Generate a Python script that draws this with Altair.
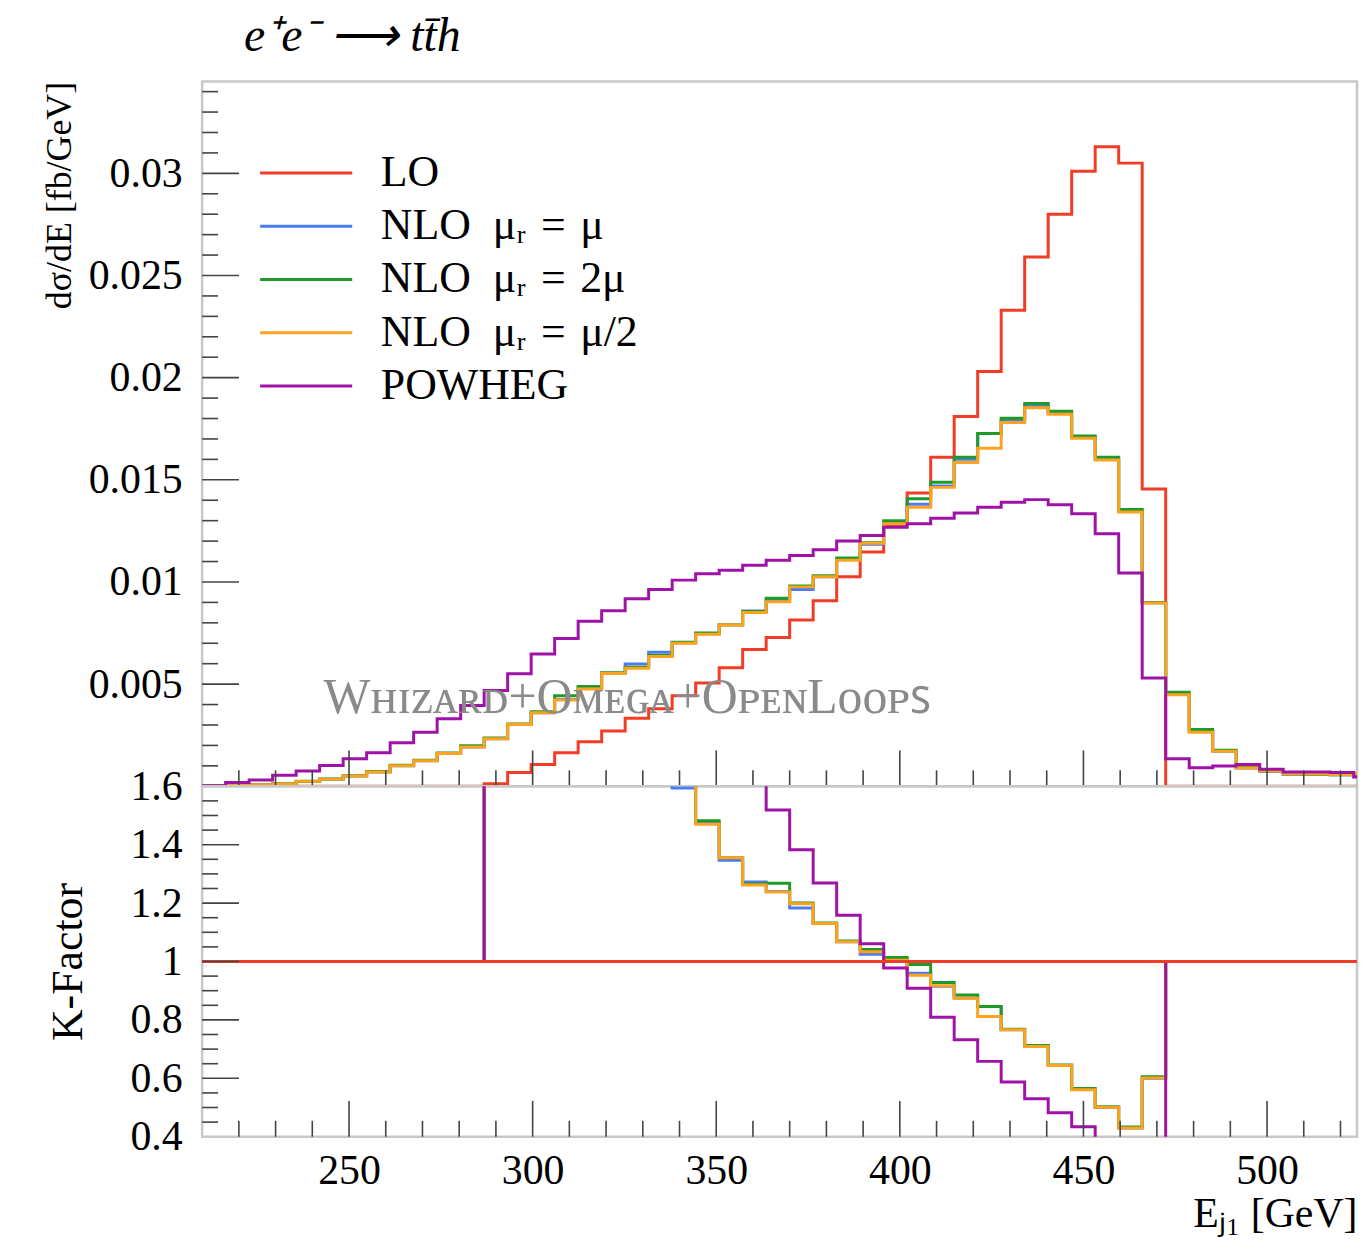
import altair as alt
import pandas as pd

FONT = "Liberation Serif"
W, H1, H2 = 1160, 708, 352
X_MIN, X_MAX = 210.0, 524.5

# Histogram binning: 50 bins of 6.4 GeV from 210 GeV
BIN_LO = 210.0
BIN_WIDTH = 6.4
N_BINS = 50
EDGES = [round(BIN_LO + BIN_WIDTH * i, 2) for i in range(N_BINS + 1)]

SERIES = ["LO",
          "NLO\u2002μᵣ\u2004=\u2004μ",
          "NLO\u2002μᵣ\u2004=\u20042μ",
          "NLO\u2002μᵣ\u2004=\u2004μ/2",
          "POWHEG"]
COLORS = ["#f23c26", "#4a7cf2", "#1f9a2a", "#ffa31f", "#9e12a8"]

# dσ/dE [fb/GeV] per bin
LO = [0, 0, 0, 0, 0, 0, 0, 0, 0, 0, 0, 0,
      0.00013, 0.00067, 0.00107, 0.00164, 0.00218, 0.0027, 0.00333, 0.0038, 0.00443, 0.00505,
      0.0058, 0.0067, 0.00728, 0.00814, 0.00908, 0.01025, 0.01147, 0.0128, 0.01435, 0.0161,
      0.0181, 0.0203, 0.0233, 0.0259, 0.0280, 0.0301, 0.0313, 0.0305, 0.01455,
      0, 0, 0, 0, 0, 0, 0, 0, 0]

NLO_MU = [0.00002, 0.00004, 0.00007, 0.00011, 0.00024, 0.00035, 0.0005, 0.0007, 0.001, 0.00125,
          0.0016, 0.00192, 0.00233, 0.00302, 0.0036, 0.00425, 0.0048, 0.00553, 0.00599, 0.00656,
          0.00703, 0.00746, 0.0079, 0.00858, 0.0091, 0.00963, 0.01025, 0.0111, 0.01185, 0.0129,
          0.0138, 0.0147, 0.016, 0.01727, 0.0179, 0.0186, 0.01825, 0.0171, 0.016, 0.01345,
          0.00898, 0.0045, 0.0027, 0.00172, 0.0009, 0.00072, 0.00058, 0.00058, 0.00056, 0.0006]

NLO_2MU = [0.00002, 0.00004, 0.00007, 0.00012, 0.00025, 0.00036, 0.00052, 0.00072, 0.00103, 0.00128,
           0.00163, 0.00198, 0.00236, 0.00305, 0.00365, 0.00443, 0.00489, 0.00556, 0.00583, 0.0064,
           0.00705, 0.0075, 0.0079, 0.00855, 0.0092, 0.0098, 0.0103, 0.01117, 0.01192, 0.0130,
           0.01407, 0.01488, 0.0161, 0.01727, 0.01801, 0.01873, 0.01835, 0.01715, 0.0161, 0.01355,
           0.009, 0.0046, 0.00278, 0.00176, 0.00093, 0.00076, 0.00061, 0.00059, 0.00057, 0.0006]

NLO_HALF = [0.00002, 0.00004, 0.00007, 0.00011, 0.00024, 0.00035, 0.0005, 0.0007, 0.001, 0.00125,
            0.0016, 0.00192, 0.00233, 0.00302, 0.0036, 0.00422, 0.00476, 0.00552, 0.00578, 0.00635,
            0.007, 0.00744, 0.00789, 0.0085, 0.00903, 0.00976, 0.01025, 0.01106, 0.0119, 0.01285,
            0.01366, 0.01463, 0.01585, 0.01655, 0.0178, 0.01853, 0.01821, 0.01703, 0.01597, 0.01342,
            0.00897, 0.00448, 0.00265, 0.00172, 0.0009, 0.00075, 0.0006, 0.0006, 0.00058, 0.00062]

POWHEG = [0.00003, 0.00018, 0.00031, 0.00054, 0.00075, 0.00102, 0.00135, 0.00164, 0.00213, 0.00265,
          0.0033, 0.00395, 0.00469, 0.00551, 0.00648, 0.00723, 0.00808, 0.00859, 0.00918, 0.00963,
          0.01009, 0.0104, 0.01057, 0.01082, 0.01106, 0.0113, 0.01158, 0.012, 0.01228, 0.01268,
          0.01285, 0.01312, 0.01337, 0.01366, 0.0139, 0.01403, 0.01378, 0.01334, 0.01236, 0.01044,
          0.0053, 0.00135, 0.00091, 0.00099, 0.00107, 0.00083, 0.0007, 0.0007, 0.00067, 0.00045]

# K-factor (ratio to LO); 1 where LO bin is empty
K_LO = [1.0] * N_BINS
K_NLO_MU = [1.0] * 12 + [18.0, 4.5, 3.4, 2.6, 2.2, 2.05, 1.8, 1.72, 1.594, 1.475,
                         1.347, 1.272, 1.24, 1.183, 1.13, 1.068, 1.025, 1.005, 0.96, 0.915,
                         0.875, 0.846, 0.766, 0.712, 0.644, 0.562, 0.5, 0.43, 0.6] + [1.0] * 9
K_NLO_2MU = [1.0] * 12 + [18.5, 4.55, 3.4, 2.7, 2.25, 2.06, 1.77, 1.68, 1.63, 1.482,
                          1.355, 1.265, 1.268, 1.2, 1.132, 1.07, 1.041, 1.014, 0.99, 0.928,
                          0.885, 0.846, 0.768, 0.712, 0.646, 0.565, 0.503, 0.433, 0.605] + [1.0] * 9
K_NLO_HALF = [1.0] * 12 + [17.9, 4.5, 3.37, 2.57, 2.18, 2.04, 1.75, 1.67, 1.61, 1.47,
                           1.355, 1.262, 1.238, 1.198, 1.13, 1.068, 1.033, 1.004, 0.953, 0.917,
                           0.874, 0.812, 0.766, 0.709, 0.644, 0.561, 0.501, 0.43, 0.601] + [1.0] * 9
K_POWHEG = [1.0] * 12 + [36.0, 8.2, 6.1, 4.4, 3.7, 3.2, 2.8, 2.5, 2.28, 2.06,
                         1.85, 1.64, 1.519, 1.383, 1.269, 1.158, 1.061, 0.978, 0.908, 0.809,
                         0.732, 0.658, 0.587, 0.53, 0.482, 0.434, 0.39, 0.34, 0.36] + [1.0] * 9

# Axis ticks / labels
X_MAJOR = [250, 300, 350, 400, 450, 500]
X_MINOR = [v for v in range(220, 530, 10) if v % 50 != 0]
Y_TOP_MAJOR = [0.005, 0.01, 0.015, 0.02, 0.025, 0.03]
Y_TOP_MINOR = [round(0.001 * i, 4) for i in range(1, 35) if i % 5 != 0]
Y_BOT_LABELS = [0.4, 0.6, 0.8, 1.0, 1.2, 1.4, 1.6]
Y_BOT_MAJOR = [0.6, 0.8, 1.0, 1.2, 1.4]
Y_BOT_MINOR = [round(0.4 + 0.05 * i, 3) for i in range(1, 24) if i % 4 != 0]

TITLE = "e⁺e⁻ ⟶ tt̄h"
WATERMARK = "Wʜɪᴢᴀʀᴅ+Oᴍᴇɢᴀ+OᴘᴇɴLᴏᴏᴘꜱ"

TICK_COLOR = "#444444"

x_scale = alt.Scale(domain=[X_MIN, X_MAX], nice=False, zero=False)
y_top_scale = alt.Scale(domain=[0, 0.0345], nice=False, zero=False)
y_bot_scale = alt.Scale(domain=[0.4, 1.6], nice=False, zero=False)
color_scale = alt.Scale(domain=SERIES, range=COLORS)


def step_frame(name, vals):
    # step points at the bin edges; the last (partly visible) bin ends at the frame edge
    xs = [e for e in EDGES[:-1]] + [X_MAX]
    return pd.DataFrame({"E": xs, "v": list(vals) + [vals[-1]], "series": name})


legend = alt.Legend(orient="none", legendX=82.5, legendY=70, title=None,
                    symbolType="M-2.5,0L2.5,0", symbolSize=1369, symbolStrokeWidth=3,
                    labelFont=FONT, labelFontSize=44, labelOffset=53, rowPadding=9.5,
                    padding=0, labelColor="black", labelLimit=0)

top_y_axis = alt.Axis(values=Y_TOP_MAJOR, format="~g", ticks=False, tickSize=0, domain=False,
                      labelPadding=20, labelFontSize=42, labelFlush=False, labelOverlap=False,
                      title="dσ/dE [fb/GeV]", titleAnchor="end", titleFontSize=36,
                      titlePadding=10, titleFontWeight="normal", grid=False)

bot_y_axis = alt.Axis(values=Y_BOT_LABELS, format="~g", ticks=False, tickSize=0, domain=False,
                      labelPadding=20, labelFontSize=42, labelFlush=False, labelOverlap=False,
                      title="K-Factor", titleFontSize=44, titlePadding=40,
                      titleFontWeight="normal", grid=False)

bot_x_axis = alt.Axis(values=X_MAJOR, ticks=False, tickSize=0, domain=False, labelPadding=14,
                      labelFontSize=42, labelFlush=False, labelOverlap=False,
                      title="Eⱼ₁ [GeV]", titleAnchor="end", titleFontSize=42, titlePadding=2,
                      titleFontWeight="normal", grid=False)


def x_ticks(values, height, length, axis):
    return alt.Chart(pd.DataFrame({"E": values})).mark_rule(
        color=TICK_COLOR, strokeWidth=1.6).encode(
        x=alt.X("E:Q", scale=x_scale, axis=axis),
        y=alt.value(height), y2=alt.value(height - length))


def y_ticks(values, scale, length, axis):
    return alt.Chart(pd.DataFrame({"v": values})).mark_rule(
        color=TICK_COLOR, strokeWidth=1.6).encode(
        y=alt.Y("v:Q", scale=scale, axis=axis),
        x=alt.value(0), x2=alt.value(length))


# ---------- top panel ----------
top_layers = []
for name, vals in zip(SERIES, [LO, NLO_MU, NLO_2MU, NLO_HALF, POWHEG]):
    top_layers.append(
        alt.Chart(step_frame(name, vals)).mark_line(
            interpolate="step-after", strokeWidth=3, clip=True).encode(
            x=alt.X("E:Q", scale=x_scale, axis=None),
            y=alt.Y("v:Q", scale=y_top_scale, axis=top_y_axis),
            color=alt.Color("series:N", scale=color_scale, legend=legend))
    )

top_layers += [
    x_ticks(X_MINOR, H1, 16, None),
    x_ticks(X_MAJOR, H1, 36, None),
    y_ticks(Y_TOP_MINOR, y_top_scale, 16, top_y_axis),
    y_ticks(Y_TOP_MAJOR, y_top_scale, 37, top_y_axis),
    alt.Chart(pd.DataFrame({"t": [WATERMARK]})).mark_text(
        font=FONT, fontSize=50, color="#8a8a8a", align="left", baseline="alphabetic").encode(
        text="t:N", x=alt.value(122), y=alt.value(634)),
    alt.Chart(pd.DataFrame({"t": [TITLE]})).mark_text(
        font=FONT, fontSize=48, fontStyle="italic", color="black", align="left",
        baseline="middle").encode(
        text="t:N", x=alt.value(42), y=alt.value(-45)),
]

top = alt.layer(*top_layers).properties(width=W, height=H1)

# ---------- bottom (K-factor) panel ----------
ratio_sets = [(SERIES[1], K_NLO_MU), (SERIES[2], K_NLO_2MU),
              (SERIES[3], K_NLO_HALF), (SERIES[4], K_POWHEG), (SERIES[0], K_LO)]
bot_layers = []
for name, vals in ratio_sets:
    bot_layers.append(
        alt.Chart(step_frame(name, vals)).mark_line(
            interpolate="step-after", strokeWidth=3, clip=True).encode(
            x=alt.X("E:Q", scale=x_scale, axis=bot_x_axis),
            y=alt.Y("v:Q", scale=y_bot_scale, axis=bot_y_axis),
            color=alt.Color("series:N", scale=color_scale, legend=None))
    )

bot_layers += [
    x_ticks(X_MINOR, H2, 16, bot_x_axis),
    x_ticks(X_MAJOR, H2, 36, bot_x_axis),
    y_ticks(Y_BOT_MINOR, y_bot_scale, 16, bot_y_axis),
    y_ticks(Y_BOT_MAJOR, y_bot_scale, 37, bot_y_axis),
]

bottom = alt.layer(*bot_layers).properties(width=W, height=H2)

chart = alt.vconcat(top, bottom, spacing=0, bounds="flush").resolve_scale(
    color="independent"
).properties(
    padding={"left": 32, "top": 0, "right": 0, "bottom": 0}
).configure_view(
    stroke="#c8c8c8", strokeWidth=2.5
).configure_axis(
    labelFont=FONT, titleFont=FONT, labelColor="black", titleColor="black", grid=False
)

chart.save("out.html", embed_options={"renderer": "svg", "actions": False})
